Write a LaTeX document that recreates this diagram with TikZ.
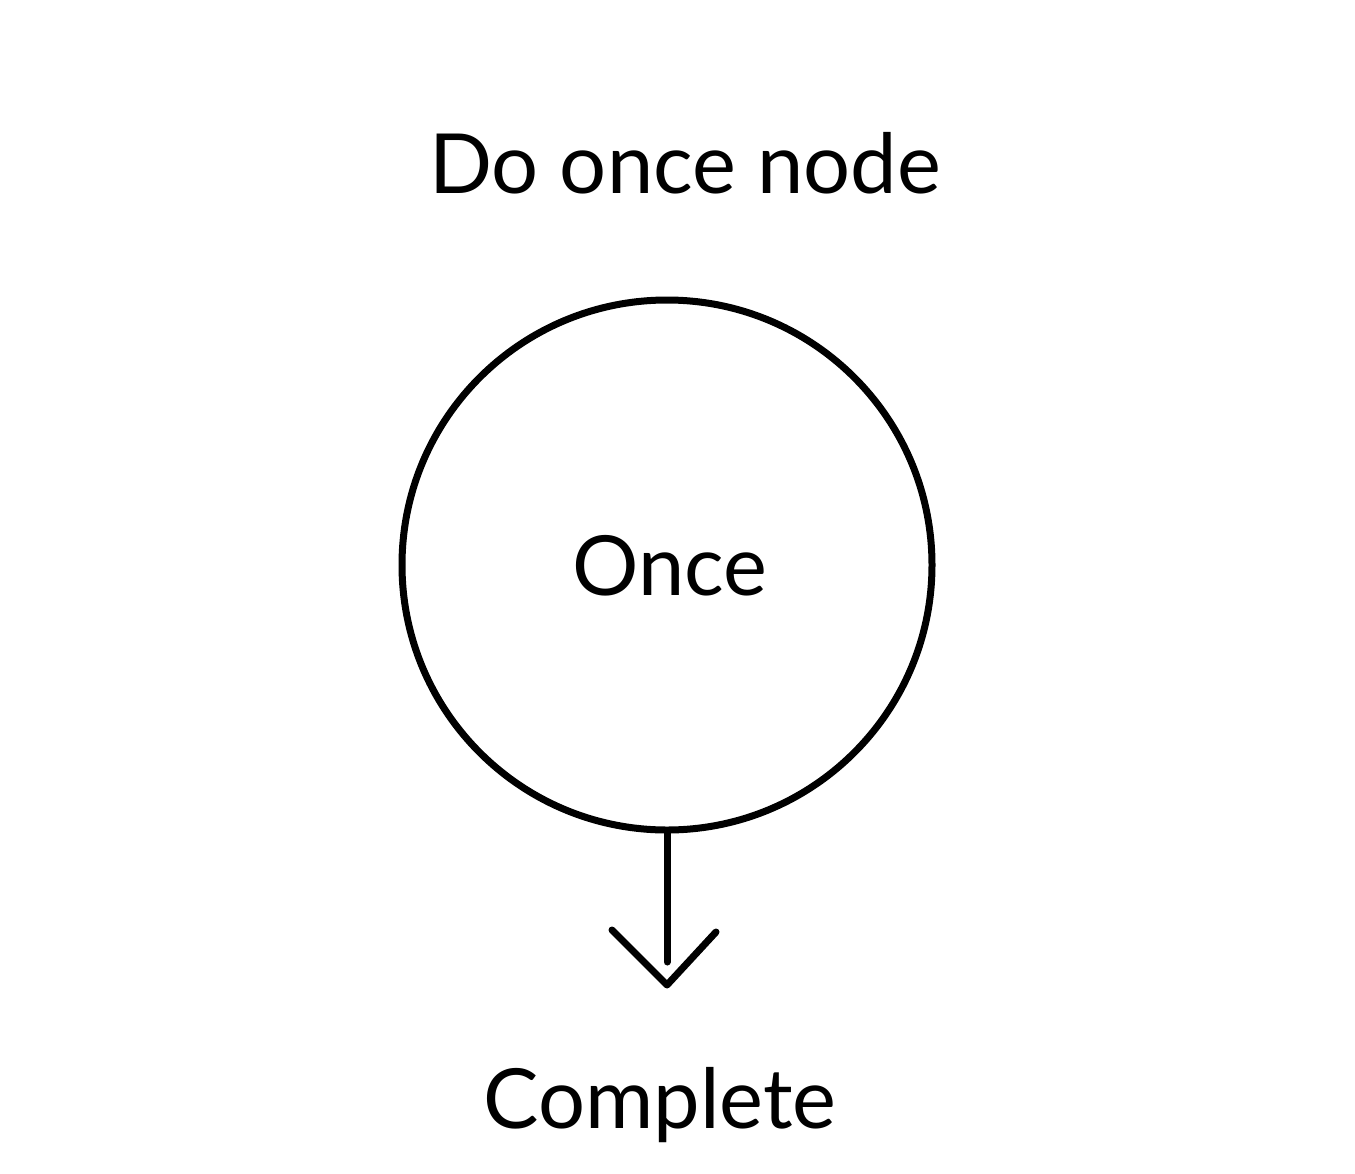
\documentclass[tikz,border=0pt]{standalone}
\usepackage{fontspec}
\setmainfont{Lato}
\begin{document}
\begin{tikzpicture}[x=1pt,y=-1pt,
  lbl/.style={anchor=base,inner sep=0pt,font=\fontsize{83}{100}\selectfont},
  ln/.style={line width=7pt,line cap=round,line join=round}]
\useasboundingbox (0,0) rectangle (1355,1173);
\node[lbl] (title) at (685,193) {Do once node};
\node[ln,draw,circle,minimum size=530pt,inner sep=0pt] (once) at (667,565) {};
\node[lbl] (oncetxt) at (670,595) {Once};
\node[lbl] (complete) at (660,1128) {Complete};
\coordinate (lineend) at (once.south |- 0,962);
\coordinate (tip) at (once.south |- 0,985);
\coordinate (la) at (612,930);
\coordinate (ra) at (716,932);
\draw[ln] (once.south) -- (lineend);
\draw[ln] (la) -- (tip) -- (ra);
\end{tikzpicture}
\end{document}
